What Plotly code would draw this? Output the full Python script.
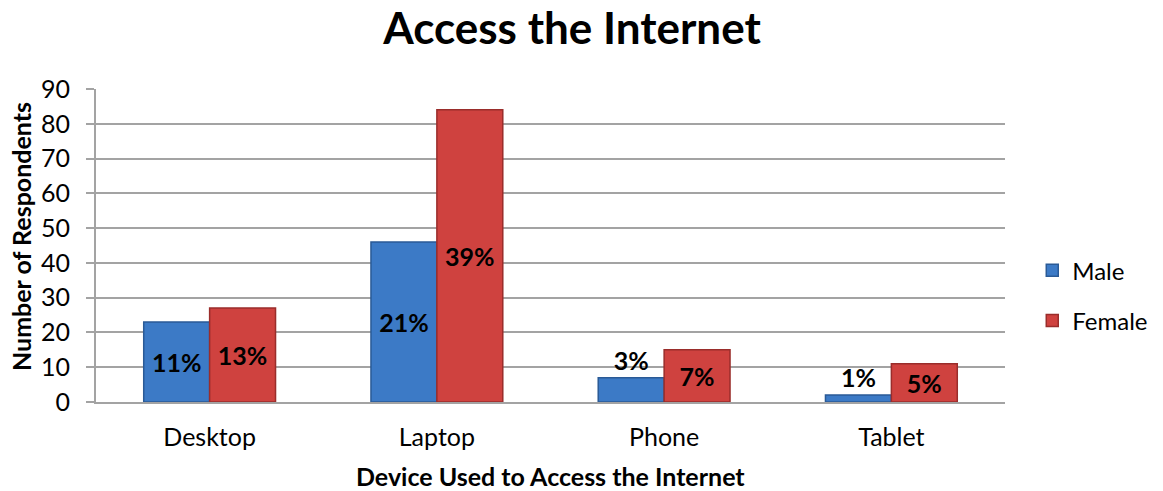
import plotly.graph_objects as go

categories = ["Desktop", "Laptop", "Phone", "Tablet"]
male = [23, 46, 7, 2]
female = [27, 84, 15, 11]
male_pct = ["11%", "21%", "3%", "1%"]
female_pct = ["13%", "39%", "7%", "5%"]
male_pos = ["inside", "inside", "outside", "outside"]
female_pos = ["inside", "inside", "inside", "inside"]
y_ticks = list(range(0, 91, 10))

FONT = "Lato"
W, H = 1163, 491
L, R, T, B = 96, 158, 89, 89
PW, PH = W - L - R, H - T - B

fig = go.Figure()
fig.add_trace(go.Bar(
    name="Male", x=categories, y=male, text=male_pct, textposition=male_pos,
    insidetextanchor="middle", cliponaxis=False, legendgroup="m",
    textfont=dict(family=FONT, size=25, color="black", weight="bold"),
    outsidetextfont=dict(family=FONT, size=25, color="black", weight="bold"),
    marker=dict(color="#3c7ac6", line=dict(color="#2a5a96", width=1.5)),
))
fig.add_trace(go.Bar(
    name="Female", x=categories, y=female, text=female_pct, textposition=female_pos,
    insidetextanchor="middle", cliponaxis=False, legendgroup="f",
    textfont=dict(family=FONT, size=25, color="black", weight="bold"),
    marker=dict(color="#cf423f", line=dict(color="#9a2d2b", width=1.5)),
))
fig.update_layout(
    width=W, height=H,
    margin=dict(l=L, r=R, t=T, b=B, autoexpand=False),
    paper_bgcolor="white", plot_bgcolor="white",
    font=dict(family=FONT, size=24, color="black"),
    title=dict(text="<b>Access the Internet</b>", x=572 / W, xanchor="center",
               y=1 - 29 / H, yanchor="middle", font=dict(family=FONT, size=44, color="black")),
    barmode="group", bargap=0.42, bargroupgap=0,
    uniformtext=dict(mode=False),
    legend=dict(x=1.03, y=0.34, xanchor="left", yanchor="middle",
                font=dict(family=FONT, size=24), tracegroupgap=16, itemwidth=30),
    annotations=[
        dict(text="<b>Number of Respondents</b>", textangle=-90, xref="paper", yref="paper",
             x=(21 - L) / PW, y=(H - B - 237) / PH, xanchor="center", yanchor="middle",
             showarrow=False, font=dict(family=FONT, size=25, color="black")),
        dict(text="<b>Device Used to Access the Internet</b>", xref="paper", yref="paper",
             x=(550 - L) / PW, y=(H - B - 476) / PH, xanchor="center", yanchor="middle",
             showarrow=False, font=dict(family=FONT, size=25, color="black")),
    ],
)
fig.update_yaxes(
    range=[0, 90], tickvals=y_ticks, showgrid=True, gridcolor="#a3a3a3", gridwidth=2,
    showline=True, linecolor="#a3a3a3", linewidth=2, automargin=False,
    ticks="outside", ticklen=8, tickcolor="#a3a3a3", tickwidth=2, ticklabelstandoff=11,
    tickfont=dict(family=FONT, size=25), zeroline=False,
)
fig.update_xaxes(
    showline=True, linecolor="#a3a3a3", linewidth=2, automargin=False,
    tickfont=dict(family=FONT, size=25), ticklabelstandoff=12,
)
fig.write_html(
    "out.html",
    config={"displayModeBar": False},
    post_script="document.body.style.margin='0';document.body.style.overflow='hidden';",
)
